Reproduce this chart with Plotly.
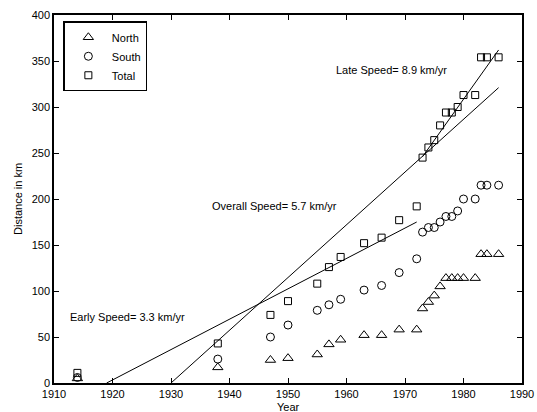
import plotly.graph_objects as go

# ---- data ----
years = [1914, 1938, 1947, 1950, 1955, 1957, 1959, 1963, 1966, 1969, 1972,
         1973, 1974, 1975, 1976, 1977, 1978, 1979, 1980, 1982, 1983, 1984, 1986]
north = [5, 17, 25, 27, 31, 42, 47, 52, 52, 58, 58,
         81, 88, 95, 105, 114, 114, 114, 114, 114, 140, 140, 140]
south = [6, 26, 50, 63, 79, 85, 91, 101, 106, 120, 135,
         164, 169, 169, 175, 181, 181, 187, 200, 200, 215, 215, 215]
total = [11, 43, 74, 89, 108, 126, 137, 152, 158, 177, 192,
         245, 256, 264, 280, 294, 294, 300, 313, 313, 354, 354, 354]

early_x = [1919, 1972]
early_y = [0, 175]
overall_x = [1930, 1986]
overall_y = [0, 321]
late_x = [1973, 1986]
late_y = [246, 362]

x_ticks = [1910, 1920, 1930, 1940, 1950, 1960, 1970, 1980, 1990]
y_ticks = [0, 50, 100, 150, 200, 250, 300, 350, 400]

FONT = "Liberation Sans, Arial, Helvetica, sans-serif"

fig = go.Figure()
fig.add_trace(go.Scatter(x=years, y=north, mode="markers", name="North",
                         marker=dict(symbol="triangle-up-open", size=9, color="black",
                                     line=dict(color="black", width=1))))
fig.add_trace(go.Scatter(x=years, y=south, mode="markers", name="South",
                         marker=dict(symbol="circle-open", size=8, color="black",
                                     line=dict(color="black", width=1))))
fig.add_trace(go.Scatter(x=years, y=total, mode="markers", name="Total",
                         marker=dict(symbol="square-open", size=7, color="black",
                                     line=dict(color="black", width=1))))
for lx, ly in [(early_x, early_y), (overall_x, overall_y), (late_x, late_y)]:
    fig.add_trace(go.Scatter(x=lx, y=ly, mode="lines", showlegend=False,
                             line=dict(color="black", width=1)))

fig.add_annotation(x=1912.4, y=72, text="Early Speed= 3.3 km/yr", showarrow=False,
                   xanchor="left", yanchor="middle", font=dict(size=11, color="black"))
fig.add_annotation(x=1936.7, y=192, text="Overall Speed= 5.7 km/yr", showarrow=False,
                   xanchor="left", yanchor="middle", font=dict(size=11, color="black"))
fig.add_annotation(x=1957.9, y=340, text="Late Speed= 8.9 km/yr", showarrow=False,
                   xanchor="left", yanchor="middle", font=dict(size=11, color="black"))
# axis titles
fig.add_annotation(x=0.5, y=-24/368, xref="paper", yref="paper", text="Year",
                   showarrow=False, xanchor="center", yanchor="middle",
                   font=dict(size=11, color="black"))
fig.add_annotation(x=-36/468, y=0.5, xref="paper", yref="paper", text="Distance in km",
                   showarrow=False, textangle=-90, xanchor="center", yanchor="middle",
                   font=dict(size=11, color="black"))

axis_common = dict(showgrid=False, zeroline=False, showline=True, linecolor="black",
                   linewidth=1.5, mirror="ticks", ticks="inside", ticklen=5,
                   tickcolor="black", tickwidth=1, tickfont=dict(size=11, color="black"),
                   automargin=False)
fig.update_xaxes(range=[1910, 1990], tickvals=x_ticks, **axis_common)
fig.update_yaxes(range=[0, 400], tickvals=y_ticks, **axis_common)

fig.update_layout(
    width=537, height=412,
    margin=dict(l=54, r=15, t=15, b=29, pad=0, autoexpand=False),
    plot_bgcolor="white", paper_bgcolor="white",
    font=dict(family=FONT, size=11, color="black"),
    legend=dict(x=0.02, y=0.983, xanchor="left", yanchor="top",
                bgcolor="white", bordercolor="black", borderwidth=1.5,
                font=dict(size=11), tracegroupgap=0, itemwidth=37),
)

fig.write_html("out.html", config={"displayModeBar": False},
               post_script="document.body.style.margin='0';")
